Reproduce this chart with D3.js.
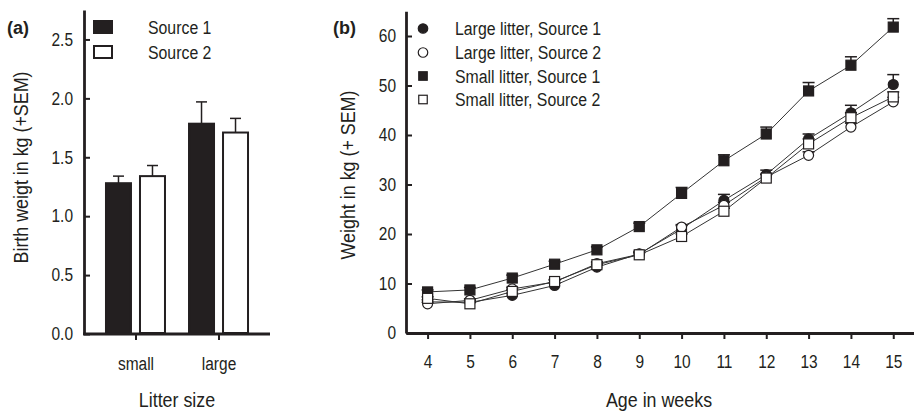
<!DOCTYPE html>
<html><head><meta charset="utf-8">
<script src="https://cdn.jsdelivr.net/npm/d3@7"></script>
<style>
html,body{margin:0;padding:0;background:#fff;}
svg{display:block;}
</style></head>
<body>
<svg id="chart" width="914" height="411"></svg>
<script>
// ---------- Panel (a) data ----------
const litterSizes = ["small", "large"];
const sourceNames = ["Source 1", "Source 2"];
const birthSource1 = [1.28, 1.785];
const birthSource2 = [1.34, 1.71];
const birthSem1 = [0.06, 0.185];
const birthSem2 = [0.09, 0.12];
const birthTicks = [0.0, 0.5, 1.0, 1.5, 2.0, 2.5];

// ---------- Panel (b) data ----------
const weeks = [4, 5, 6, 7, 8, 9, 10, 11, 12, 13, 14, 15];
const largeSource1 = [6.3, 6.2, 7.6, 9.6, 13.3, 16.0, 21.0, 26.8, 32.0, 39.2, 44.5, 50.2];
const largeSource2 = [5.9, 6.6, 8.9, 10.3, 14.0, 15.9, 21.4, 25.8, 31.5, 35.9, 41.6, 46.7];
const smallSource1 = [8.3, 8.7, 11.1, 13.9, 16.8, 21.5, 28.2, 34.8, 40.2, 48.9, 54.1, 61.8];
const smallSource2 = [7.0, 5.9, 8.4, 10.4, 13.8, 15.8, 19.5, 24.6, 31.3, 38.2, 43.5, 47.7];
const semLarge1 = [0.4, 0.4, 0.4, 0.5, 0.5, 0.5, 0.7, 1.2, 0.9, 1.0, 1.5, 2.0];
const semLarge2 = [0.3, 0.3, 0.3, 0.4, 0.4, 0.4, 0.5, 0.6, 0.6, 0.7, 0.8, 0.9];
const semSmall1 = [0.4, 0.5, 0.6, 0.6, 0.6, 0.7, 1.2, 1.2, 1.4, 1.7, 1.7, 1.7];
const semSmall2 = [0.3, 0.3, 0.4, 0.4, 0.4, 0.4, 0.5, 0.6, 0.7, 1.0, 1.0, 1.0];
const seriesNames = ["Large litter, Source 1", "Large litter, Source 2", "Small litter, Source 1", "Small litter, Source 2"];
const weightTicks = [0, 10, 20, 30, 40, 50, 60];

const FONT = "'Liberation Sans',Arial,Helvetica,sans-serif";
const INK = "#231f20";

const svg = d3.select("#chart").style("font-family", FONT);

// condensed look: shrink the advance of each text by a ratio
function squeeze(sel, ratio) {
  sel.each(function () {
    const w = this.getComputedTextLength();
    d3.select(this).attr("textLength", w * ratio).attr("lengthAdjust", "spacingAndGlyphs");
  });
}

// ================= Panel (a) =================
const ya = d3.scaleLinear().domain([0, 2.75]).range([334, 10]);
const xa = d3.scalePoint().domain(litterSizes).range([84, 270]).padding(0.62);
const xsub = d3.scaleBand().domain(sourceNames).range([-30.5, 30.5]).paddingInner(0.206);

const ga = svg.append("g");

const barData = [];
litterSizes.forEach((c, i) => {
  barData.push({cat: c, src: sourceNames[0], v: birthSource1[i], e: birthSem1[i]});
  barData.push({cat: c, src: sourceNames[1], v: birthSource2[i], e: birthSem2[i]});
});

// error bars (upper only)
const errA = ga.append("g").attr("stroke", INK).attr("stroke-width", 1.5);
barData.forEach(d => {
  const cx = xa(d.cat) + xsub(d.src) + xsub.bandwidth() / 2;
  errA.append("line").attr("x1", cx).attr("x2", cx).attr("y1", ya(d.v)).attr("y2", ya(d.v + d.e));
  errA.append("line").attr("x1", cx - 5.5).attr("x2", cx + 5.5).attr("y1", ya(d.v + d.e)).attr("y2", ya(d.v + d.e));
});

ga.append("g").selectAll("rect").data(barData).join("rect")
  .attr("x", d => xa(d.cat) + xsub(d.src) + 1)
  .attr("width", xsub.bandwidth() - 2)
  .attr("y", d => ya(d.v))
  .attr("height", d => ya(0) - ya(d.v) - 1)
  .attr("fill", d => d.src === sourceNames[0] ? INK : "#fff")
  .attr("stroke", INK).attr("stroke-width", 2);

// axes
ga.append("g").attr("transform", "translate(84,0)")
  .call(d3.axisLeft(ya).tickValues(birthTicks).tickFormat(d3.format(".1f")).tickSize(-6).tickSizeOuter(0).tickPadding(11));
const axBottom = ga.append("g").attr("transform", "translate(0,334)")
  .call(d3.axisBottom(xa).tickSize(6).tickSizeOuter(0).tickPadding(17));
axBottom.select(".domain").attr("d", "M83,0H270");

// ================= Panel (b) =================
const xb = d3.scaleLinear().domain([3.49, 15.49]).range([406, 914]);
const yb = d3.scaleLinear().domain([0, 65]).range([333, 11.25]);
const gb = svg.append("g");

const series = [
  {name: seriesNames[0], vals: largeSource1, sem: semLarge1, shape: "circle", fill: INK},
  {name: seriesNames[1], vals: largeSource2, sem: semLarge2, shape: "circle", fill: "#fff"},
  {name: seriesNames[2], vals: smallSource1, sem: semSmall1, shape: "square", fill: INK},
  {name: seriesNames[3], vals: smallSource2, sem: semSmall2, shape: "square", fill: "#fff"}
];

const line = d3.line().x((d, i) => xb(weeks[i])).y(d => yb(d));
series.forEach(s => {
  gb.append("path").attr("d", line(s.vals)).attr("fill", "none").attr("stroke", "#333").attr("stroke-width", 1);
});
series.forEach(s => {
  const g = gb.append("g").attr("stroke", INK).attr("stroke-width", 1.5);
  s.vals.forEach((v, i) => {
    const cx = xb(weeks[i]);
    g.append("line").attr("x1", cx).attr("x2", cx).attr("y1", yb(v)).attr("y2", yb(v + s.sem[i]));
    g.append("line").attr("x1", cx - 6).attr("x2", cx + 6).attr("y1", yb(v + s.sem[i])).attr("y2", yb(v + s.sem[i]));
  });
});
function drawMarker(g, shape, fill, x, y, size) {
  if (shape === "circle") {
    g.append("circle").attr("cx", x).attr("cy", y).attr("r", size / 2)
      .attr("fill", fill).attr("stroke", INK).attr("stroke-width", 1.2);
  } else {
    g.append("rect").attr("x", x - size / 2).attr("y", y - size / 2).attr("width", size).attr("height", size)
      .attr("fill", fill).attr("stroke", INK).attr("stroke-width", 1.2);
  }
}
series.forEach(s => {
  const g = gb.append("g");
  s.vals.forEach((v, i) => drawMarker(g, s.shape, s.fill, xb(weeks[i]), yb(v), 10));
});

gb.append("g").attr("transform", "translate(406,0)")
  .call(d3.axisLeft(yb).tickValues(weightTicks).tickFormat(d3.format("d")).tickSize(-6).tickSizeOuter(0).tickPadding(10));
gb.append("g").attr("transform", "translate(0,333)")
  .call(d3.axisBottom(xb).tickValues(weeks).tickFormat(d3.format("d")).tickSize(6).tickSizeOuter(0).tickPadding(16));

// axis styling
svg.selectAll(".domain").attr("stroke", INK).attr("stroke-width", 2.8);
svg.selectAll(".tick line").attr("stroke", INK).attr("stroke-width", 2);
const tickTexts = svg.selectAll(".tick text").attr("fill", INK).style("font-size", "18px").style("font-family", FONT);
squeeze(tickTexts, 0.86);

// ================= Legends =================
const la = svg.append("g");
sourceNames.forEach((n, i) => {
  la.append("rect").attr("x", 94).attr("y", 21 + i * 25).attr("width", 18).attr("height", 12)
    .attr("fill", i === 0 ? INK : "#fff").attr("stroke", INK).attr("stroke-width", 2);
  la.append("text").attr("x", 148).attr("y", 33.5 + i * 25).text(n)
    .attr("fill", INK).style("font-size", "18px").attr("class", "sq");
});

const lb = svg.append("g");
const legY = [28.5, 52.5, 76, 99.5];
series.forEach((s, i) => {
  drawMarker(lb, s.shape, s.fill, 423, legY[i], s.shape === "circle" ? 9.5 : 8.5);
  lb.append("text").attr("x", 455).attr("y", legY[i] + 6.5).text(s.name)
    .attr("fill", INK).style("font-size", "18px").attr("class", "sq");
});
squeeze(svg.selectAll("text.sq"), 0.88);

// ================= Titles & panel labels =================
svg.append("text").attr("x", 7).attr("y", 34).text("(a)").attr("fill", INK)
  .style("font-size", "18px").style("font-weight", "bold");
svg.append("text").attr("x", 333).attr("y", 34).text("(b)").attr("fill", INK)
  .style("font-size", "18px").style("font-weight", "bold");

const titles = [];
titles.push(svg.append("text").attr("transform", "translate(28,167.5) rotate(-90)").attr("text-anchor", "middle")
  .text("Birth weigt in kg (+SEM)").attr("fill", INK).style("font-size", "21px"));
titles.push(svg.append("text").attr("transform", "translate(355,175) rotate(-90)").attr("text-anchor", "middle")
  .text("Weight in kg (+ SEM)").attr("fill", INK).style("font-size", "21px"));
titles.push(svg.append("text").attr("x", 177).attr("y", 407).attr("text-anchor", "middle")
  .text("Litter size").attr("fill", INK).style("font-size", "21px"));
titles.push(svg.append("text").attr("x", 659).attr("y", 407).attr("text-anchor", "middle")
  .text("Age in weeks").attr("fill", INK).style("font-size", "21px"));
titles.forEach(t => squeeze(t, 0.85));
</script>
</body></html>
